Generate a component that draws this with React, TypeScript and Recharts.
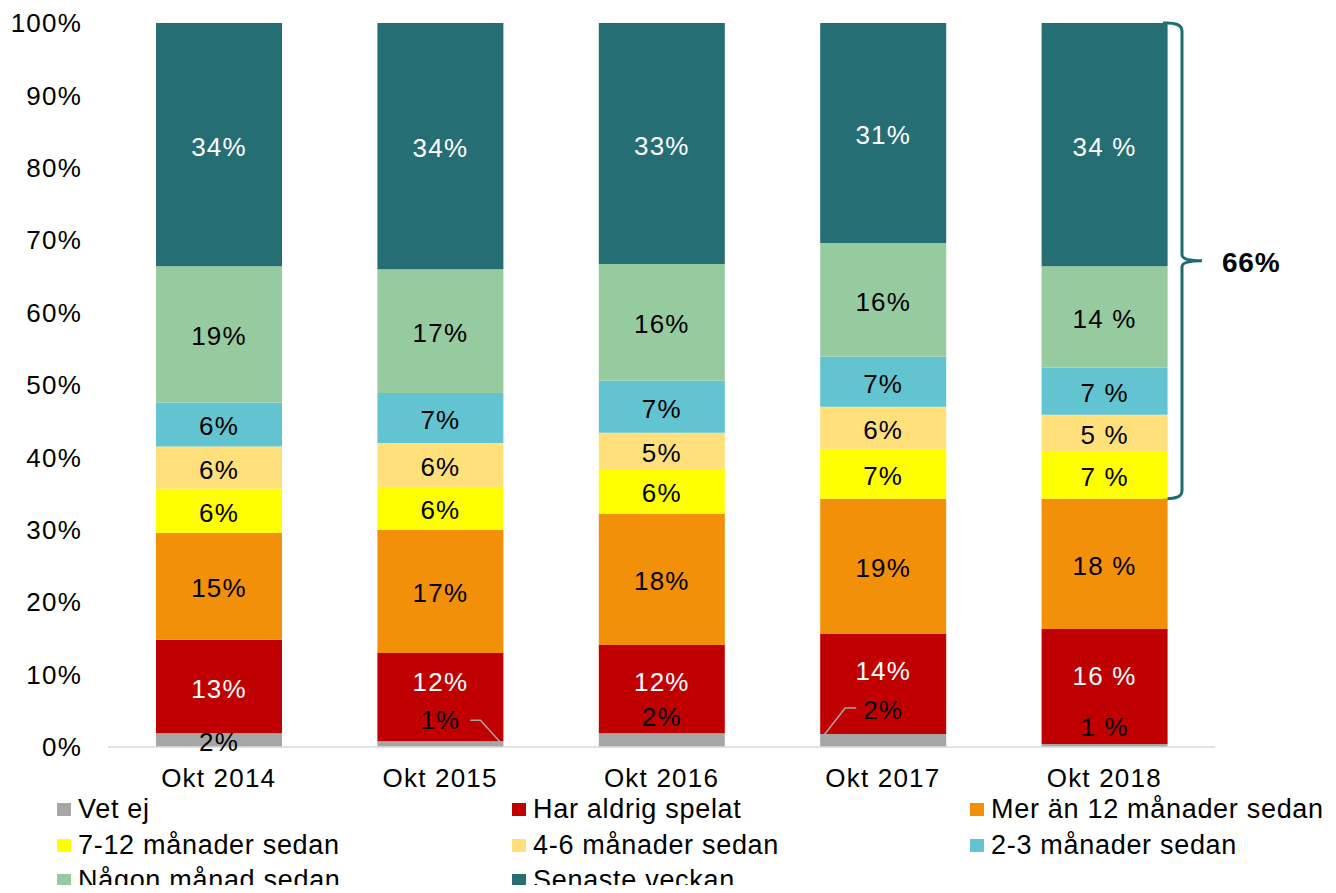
import { BarChart, Bar, XAxis, YAxis, LabelList, ReferenceArea } from "recharts";

const years = ["Okt 2014", "Okt 2015", "Okt 2016", "Okt 2017", "Okt 2018"];

// stacked shares in percent, bottom to top
const vetEj = [1.9, 0.8, 1.9, 1.8, 0.4];
const aldrig = [12.9, 12.2, 12.2, 13.8, 15.9];
const mer12 = [14.8, 17.0, 18.1, 18.7, 18.0];
const m7to12 = [6.1, 5.9, 6.2, 6.9, 6.6];
const m4to6 = [5.8, 6.1, 5.0, 5.8, 5.0];
const m2to3 = [6.1, 6.9, 7.2, 6.9, 6.5];
const nagonManad = [18.8, 17.1, 16.1, 15.7, 14.0];
const senasteVeckan = [33.6, 34.0, 33.3, 30.4, 33.6];

// printed labels (2018 uses a space before %)
const vetEjL = ["2%", "1%", "2%", "2%", "1 %"];
const aldrigL = ["13%", "12%", "12%", "14%", "16 %"];
const mer12L = ["15%", "17%", "18%", "19%", "18 %"];
const m7to12L = ["6%", "6%", "6%", "7%", "7 %"];
const m4to6L = ["6%", "6%", "5%", "6%", "5 %"];
const m2to3L = ["6%", "7%", "7%", "7%", "7 %"];
const nagonManadL = ["19%", "17%", "16%", "16%", "14 %"];
const senasteVeckanL = ["34%", "34%", "33%", "31%", "34 %"];

const yTicks = [0, 10, 20, 30, 40, 50, 60, 70, 80, 90, 100];
const bracketLabel = "66%";

const series = [
  { key: "vetEj", name: "Vet ej", color: "#A6A6A6", text: "#000", values: vetEj, labels: vetEjL },
  { key: "aldrig", name: "Har aldrig spelat", color: "#C00000", text: "#fff", values: aldrig, labels: aldrigL },
  { key: "mer12", name: "Mer än 12 månader sedan", color: "#F39009", text: "#000", values: mer12, labels: mer12L },
  { key: "m7to12", name: "7-12 månader sedan", color: "#FFFF00", text: "#000", values: m7to12, labels: m7to12L },
  { key: "m4to6", name: "4-6 månader sedan", color: "#FFE07B", text: "#000", values: m4to6, labels: m4to6L },
  { key: "m2to3", name: "2-3 månader sedan", color: "#62C4D0", text: "#000", values: m2to3, labels: m2to3L },
  { key: "nagonManad", name: "Någon månad sedan", color: "#96CBA0", text: "#000", values: nagonManad, labels: nagonManadL },
  { key: "senasteVeckan", name: "Senaste veckan", color: "#246E74", text: "#fff", values: senasteVeckan, labels: senasteVeckanL },
];

const data = years.map((name, i) => {
  const row: Record<string, string | number> = { name };
  series.forEach((s) => {
    row[s.key] = s.values[i];
    row[s.key + "L"] = s.labels[i];
  });
  return row;
});

const last = years.length - 1;
const bracketBottom = vetEj[last] + aldrig[last] + mer12[last];

const FONT = "'Liberation Sans', Arial, sans-serif";
const FS = 26;
const LS = 1.2;

// small gray labels: how far above the gray segment each one sits, and leader lines
const grayLift = [-9, 21, 16, 24, 17];
const grayLeader = [null, "right", null, "left", null];
// red labels were nudged up in the original to make room for the gray ones
const redShift = [1, -16, -8, -14, -12];

function GrayLabel(props: any) {
  const { x, y, width, index, value } = props;
  const cx = x + width / 2;
  const ty = y - grayLift[index];
  const side = grayLeader[index];
  let leader = null;
  if (side === "right") {
    leader = (
      <polyline
        points={`${x + width - 33},${ty} ${x + width - 23},${ty} ${x + width - 3},${y + 1}`}
        fill="none"
        stroke="#A6A6A6"
        strokeWidth={1.5}
      />
    );
  } else if (side === "left") {
    leader = (
      <polyline
        points={`${x + 36},${ty - 2} ${x + 25},${ty - 2} ${x},${y + 6}`}
        fill="none"
        stroke="#A6A6A6"
        strokeWidth={1.5}
      />
    );
  }
  return (
    <g>
      {leader}
      <text x={cx} y={ty} textAnchor="middle" dominantBaseline="central" fontSize={FS} fontFamily={FONT} letterSpacing={LS} fill="#000">
        {value}
      </text>
    </g>
  );
}

function SegLabel(props: any) {
  const { x, y, width, height, index, value, color, shift } = props;
  const dy = shift ? shift[index] : 1;
  return (
    <text
      x={x + width / 2}
      y={y + height / 2 + dy + 1}
      textAnchor="middle"
      dominantBaseline="central"
      fontSize={FS}
      fontFamily={FONT}
      letterSpacing={LS}
      fill={color}
    >
      {value}
    </text>
  );
}

function Brace(props: any) {
  const { x, y, width, height } = props;
  const right = x + width;
  const l = right - 52;
  const vx = right - 33;
  const tip = right - 13;
  const bottom = y + height;
  const mid = (y + bottom) / 2;
  const d = `M${l},${y} Q${vx},${y - 1} ${vx},${y + 8} L${vx},${mid - 6} Q${vx},${mid} ${tip},${mid} Q${vx},${mid} ${vx},${mid + 6} L${vx},${bottom - 8} Q${vx},${bottom + 1} ${l},${bottom}`;
  return (
    <g>
      <path d={d} fill="none" stroke="#1C6E6E" strokeWidth={3} />
      <text x={right + 7} y={mid + 2} dominantBaseline="central" fontSize={28} fontWeight="bold" fontFamily={FONT} letterSpacing={0.8} fill="#000">
        {bracketLabel}
      </text>
    </g>
  );
}

const legendCols = [57, 512, 970];
const legendRows = [809, 845, 880];

export default function App() {
  return (
    <div style={{ position: "relative", width: 1336, height: 893, margin: -8, background: "#fff", fontFamily: FONT }}>
      <BarChart width={1336} height={800} data={data} margin={{ top: 23, right: 121, bottom: 0, left: 0 }}>
        <XAxis
          dataKey="name"
          axisLine={{ stroke: "#D9D9D9", strokeWidth: 1.5 }}
          tickLine={false}
          tickSize={0}
          tickMargin={22}
          height={53}
          tick={{ fontSize: FS, fontFamily: FONT, fill: "#000", letterSpacing: LS }}
        />
        <YAxis
          type="number"
          domain={[0, 100]}
          ticks={yTicks}
          allowDataOverflow
          width={108}
          axisLine={false}
          tickLine={false}
          tickSize={0}
          tickMargin={26}
          tickFormatter={(v: number) => `${v}%`}
          tick={{ fontSize: FS, fontFamily: FONT, fill: "#000", letterSpacing: LS }}
        />
        {series.map((s) => (
          <Bar key={s.key} dataKey={s.key} stackId="a" fill={s.color} barSize={126} isAnimationActive={false}>
            {s.key === "vetEj" ? (
              <LabelList dataKey={s.key + "L"} content={<GrayLabel />} />
            ) : (
              <LabelList
                dataKey={s.key + "L"}
                content={<SegLabel color={s.text} shift={s.key === "aldrig" ? redShift : null} />}
              />
            )}
          </Bar>
        ))}
        <ReferenceArea y1={bracketBottom} y2={100} shape={<Brace />} ifOverflow="visible" />
      </BarChart>
      {series.map((s, i) => (
        <div
          key={s.key}
          style={{
            position: "absolute",
            left: legendCols[i % 3],
            top: legendRows[Math.floor(i / 3)] - 16,
            height: 32,
            display: "flex",
            alignItems: "center",
            fontSize: 27,
            letterSpacing: 0.7,
            whiteSpace: "nowrap",
          }}
        >
          <span style={{ width: 14, height: 13, background: s.color, marginRight: 7, display: "inline-block" }} />
          <span>{s.name}</span>
        </div>
      ))}
    </div>
  );
}
